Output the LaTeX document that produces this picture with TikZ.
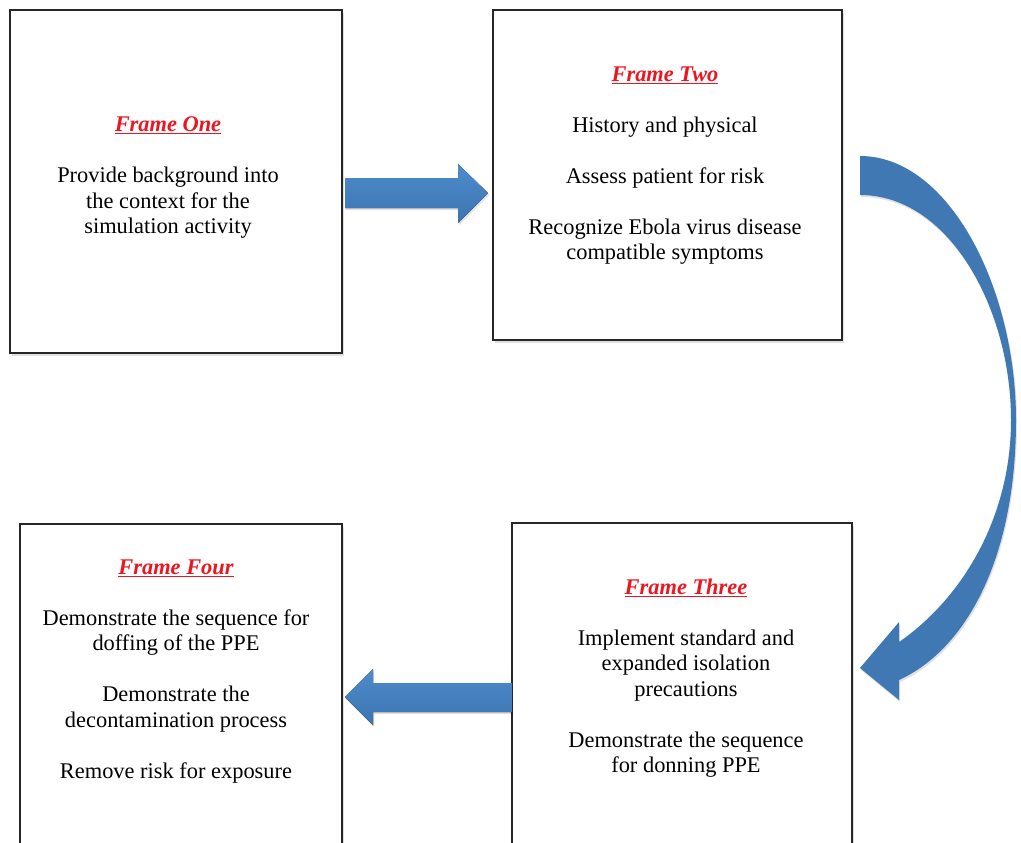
\documentclass[tikz,border=0pt]{standalone}
\usepackage{fontspec}
\setmainfont{Liberation Serif}
\usepackage{xcolor}
\usetikzlibrary{shadows}

\definecolor{framered}{RGB}{236,22,32}
\definecolor{arrowtop}{RGB}{78,140,204}
\definecolor{arrowbot}{RGB}{60,116,176}
\definecolor{arrowblue}{RGB}{63,120,178}
\definecolor{frameline}{RGB}{38,38,38}

\newcommand{\framehead}[1]{{\color{framered}\bfseries\itshape\underline{#1}}}

\begin{document}
\begin{tikzpicture}[x=1pt,y=-1pt,
  frame/.style={draw=frameline,line width=1.5pt,fill=white,inner sep=0,
    drop shadow={shadow xshift=2pt,shadow yshift=-3pt,opacity=.12,fill=black}},
  txt/.style={anchor=north,align=center,inner sep=0,
    font=\fontsize{22.4}{25.5}\selectfont},
  blockarrow/.style={top color=arrowtop,bottom color=arrowbot,draw=none,
    drop shadow={shadow xshift=1pt,shadow yshift=-2pt,opacity=.12,fill=black}},
  curvearrow/.style={fill=arrowblue,draw=none,
    drop shadow={shadow xshift=1pt,shadow yshift=-2pt,opacity=.12,fill=black}}]
\useasboundingbox (0,0) rectangle (1021,843);
\clip (0,0) rectangle (1021,843);

% frames
\node[frame,minimum width=332pt,minimum height=343pt] (f1) at (176,181.5) {};
\node[frame,minimum width=349pt,minimum height=330pt] (f2) at (667.5,175) {};
\node[frame,minimum width=340pt,minimum height=340pt] (f3) at (682,693) {};
\node[frame,minimum width=322pt,minimum height=340pt] (f4) at (181,694) {};

\node[txt] (t1) at (168,116.5) {\framehead{Frame One}\\[25.5pt]
  Provide background into\\ the context for the\\ simulation activity};
\node[txt] (t2) at (665,66.5) {\framehead{Frame Two}\\[25.5pt]
  History and physical\\[25.5pt]
  Assess patient for risk\\[25.5pt]
  Recognize Ebola virus disease\\ compatible symptoms};
\node[txt] (t3) at (686,578.5) {\framehead{Frame Three}\\[25.5pt]
  Implement standard and\\ expanded isolation\\ precautions\\[25.5pt]
  Demonstrate the sequence\\ for donning PPE};
\node[txt] (t4) at (176,559.5) {\framehead{Frame Four}\\[25.5pt]
  Demonstrate the sequence for\\ doffing of the PPE\\[25.5pt]
  Demonstrate the\\ decontamination process\\[25.5pt]
  Remove risk for exposure};

% arrows
\fill[blockarrow] (345,178) -- (458,178) -- (458,164) -- (488,193)
  -- (458,223) -- (458,208) -- (345,208) -- cycle;
\fill[blockarrow] (512,683) -- (373,683) -- (373,669) -- (345,697)
  -- (373,725) -- (373,712) -- (512,712) -- cycle;
\fill[curvearrow] (860,156) .. controls (950,156) and (1016,290) .. (1016,420)
  .. controls (1016,560) and (965,650) .. (899,680) -- (899,700) -- (860,668)
  -- (899,622) -- (899,642) .. controls (960,600) and (1011,520) .. (1011,420)
  .. controls (1011,310) and (950,195) .. (860,195) -- cycle;

\end{tikzpicture}
\end{document}
